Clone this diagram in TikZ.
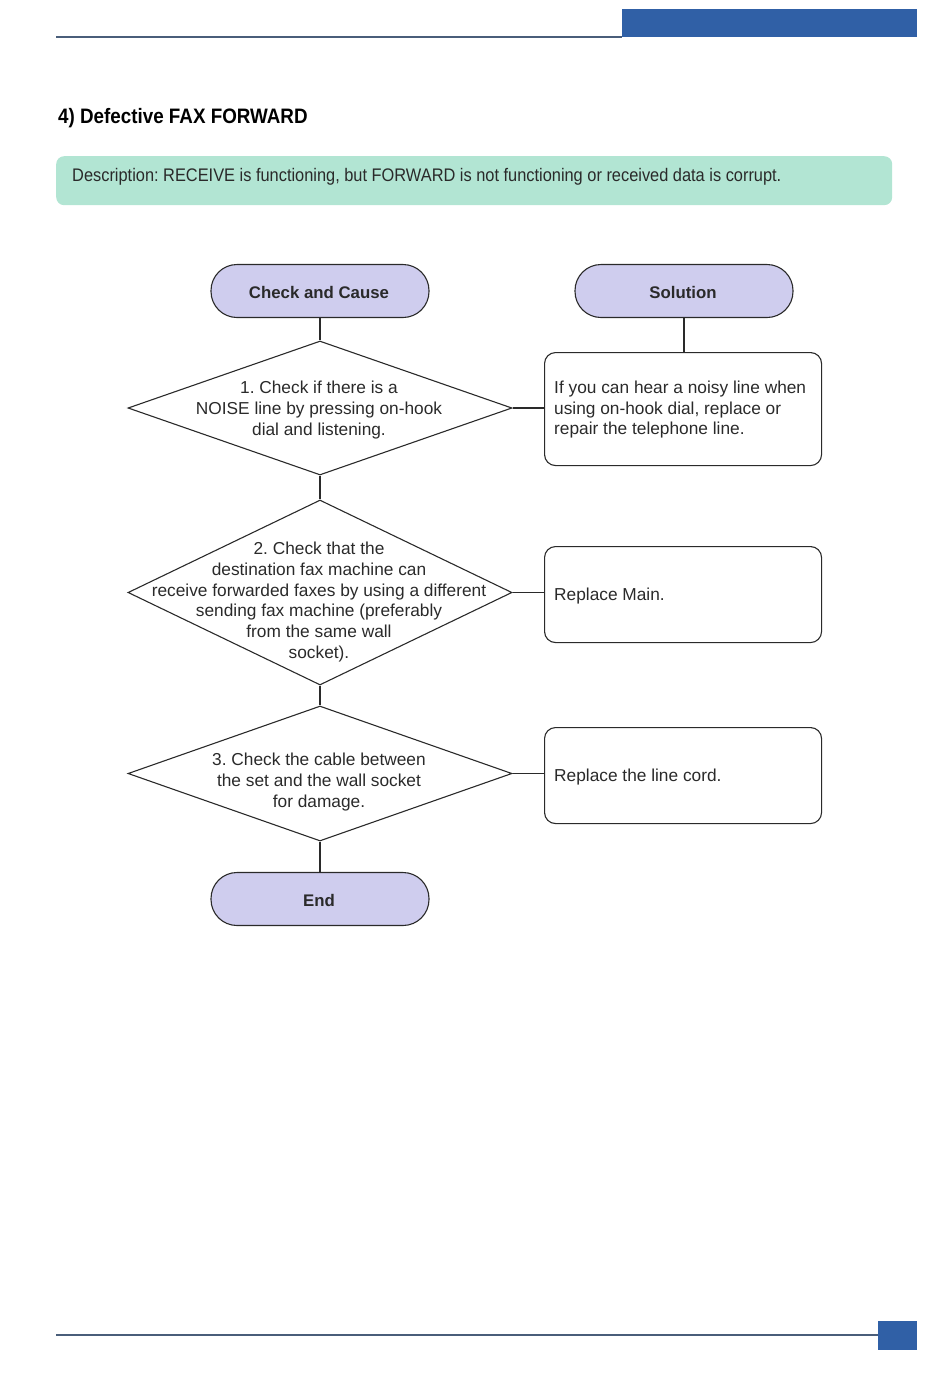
\documentclass[tikz,border=0pt]{standalone}
\usepackage{fontspec}
\setmainfont{Liberation Sans}
\newfontfamily\condfont[FakeStretch=0.9]{Liberation Sans}
\usetikzlibrary{shapes.geometric}
\definecolor{hdrblue}{HTML}{3060A6}
\definecolor{hdrline}{HTML}{4A5E7A}
\definecolor{mint}{HTML}{B2E5D3}
\definecolor{lav}{HTML}{CFCDEE}
\definecolor{ink}{HTML}{2A2A2A}
\tikzset{
  term/.style={draw=ink, line width=1.1pt, fill=lav, rounded corners=26pt,
    minimum width=218pt, minimum height=53pt, inner sep=0pt,
    font=\fontsize{16.8}{19}\selectfont\bfseries, text=ink},
  dia/.style={draw=ink, line width=1.1pt, shape=diamond, inner sep=0pt},
  dtext/.style={align=center, font=\fontsize{17.3}{20.7}\selectfont, text=ink, inner sep=0pt},
  solbox/.style={draw=ink, line width=1.1pt, rounded corners=11pt, minimum width=277pt,
    inner sep=0pt, anchor=north west},
  soltext/.style={align=left, font=\fontsize{17.3}{20.5}\selectfont, text=ink, inner sep=0pt, anchor=west},
  conn/.style={draw=ink, line width=1.1pt}
}
\begin{document}
\frenchspacing
\begin{tikzpicture}[x=1pt,y=-1pt]
\useasboundingbox (0,0) rectangle (950,1379);
% header
\fill[hdrblue] (622,9) rectangle (917,37);
\draw[hdrline, line width=1.2pt] (56,37) -- (622,37);
\node[anchor=west, inner sep=0pt, font=\condfont\fontsize{20.9}{24}\selectfont\bfseries] (title) at (58,118) {4) Defective FAX FORWARD};
% description
\node[fill=mint, rounded corners=8pt, minimum width=836pt, minimum height=49pt, anchor=north west, inner sep=0pt] (descbox) at (56,156) {};
\node[anchor=west, inner sep=0pt, font=\condfont\fontsize{18.2}{20}\selectfont, text=ink] (desc) at (72,177) {Description: RECEIVE is functioning, but FORWARD is not functioning or received data is corrupt.};
% terminals
\node[term] (cc) at (320,291) {};
\node[inner sep=0pt, font=\fontsize{16.8}{19}\selectfont\bfseries, text=ink] (cct) at (319,292.5) {Check and Cause};
\node[term] (sol) at (684,291) {};
\node[inner sep=0pt, font=\fontsize{16.8}{19}\selectfont\bfseries, text=ink] (solt) at (683,292.5) {Solution};
% diamonds
\node[dia, minimum width=384pt, minimum height=134pt] (d1) at (320,408) {};
\node[dtext] (t1) at (319,410) {1. Check if there is a\\NOISE line by pressing on-hook\\dial and listening.};
\node[dia, minimum width=384pt, minimum height=185pt] (d2) at (320,592.5) {};
\node[dtext] (t2) at (319,602) {2. Check that the\\destination fax machine can\\receive forwarded faxes by using a different\\sending fax machine (preferably\\from the same wall\\socket).};
\node[dia, minimum width=384pt, minimum height=135pt] (d3) at (320,773.5) {};
\node[dtext] (t3) at (319,782) {3. Check the cable between\\the set and the wall socket\\for damage.};
\node[term] (end) at (320,899) {};
\node[inner sep=0pt, font=\fontsize{16.8}{19}\selectfont\bfseries, text=ink] (endt) at (319,900.5) {End};
% solution boxes
\node[solbox, minimum height=113pt] (s1) at (544,352) {};
\node[soltext] (st1) at (554,410) {If you can hear a noisy line when\\using on-hook dial, replace or\\repair the telephone line.};
\node[solbox, minimum height=96pt] (s2) at (544,546) {};
\node[soltext] (st2) at (554,596) {Replace Main.};
\node[solbox, minimum height=96pt] (s3) at (544,727) {};
\node[soltext] (st3) at (554,777) {Replace the line cord.};
% connectors
\draw[conn] (cc.south) -- (d1.north);
\draw[conn] (d1.south) -- (d2.north);
\draw[conn] (d2.south) -- (d3.north);
\draw[conn] (d3.south) -- (end.north);
\draw[conn] (sol.south) -- (sol.south |- s1.north);
\draw[conn] (d1.east) -- (d1.east -| s1.west);
\draw[conn] (d2.east) -- (d2.east -| s2.west);
\draw[conn] (d3.east) -- (d3.east -| s3.west);
% footer
\draw[hdrline, line width=1.2pt] (56,1335) -- (878,1335);
\fill[hdrblue] (878,1321) rectangle (917,1350);
\end{tikzpicture}
\end{document}
